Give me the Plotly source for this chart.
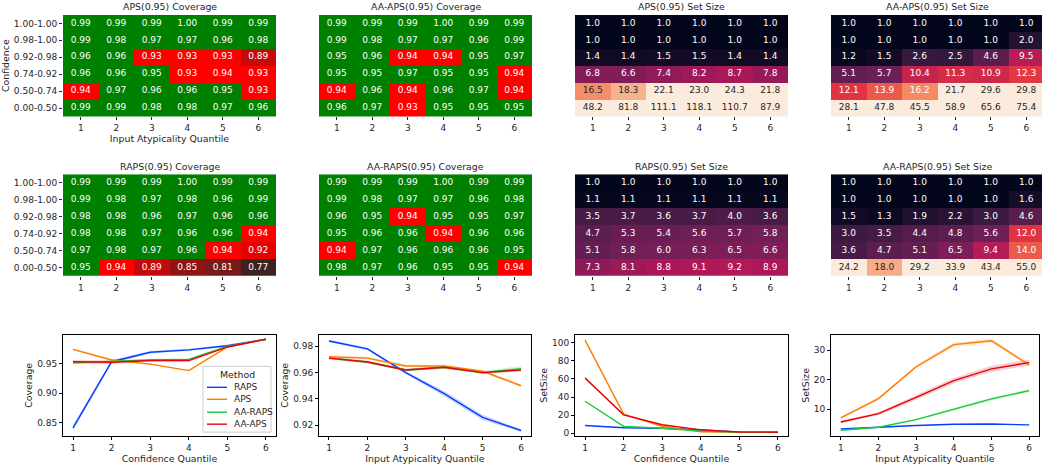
import plotly.graph_objects as go

W, H = 1042, 466

# ---------------- data ----------------
row_labels = ["1.00-1.00", "0.98-1.00", "0.92-0.98", "0.74-0.92", "0.50-0.74", "0.00-0.50"]
col_labels = [1, 2, 3, 4, 5, 6]

aps_cov = [
    [0.99, 0.99, 0.99, 1.00, 0.99, 0.99],
    [0.99, 0.98, 0.97, 0.97, 0.96, 0.98],
    [0.96, 0.96, 0.93, 0.93, 0.93, 0.89],
    [0.96, 0.96, 0.95, 0.93, 0.94, 0.93],
    [0.94, 0.97, 0.96, 0.96, 0.95, 0.93],
    [0.99, 0.99, 0.98, 0.98, 0.97, 0.96],
]
aa_aps_cov = [
    [0.99, 0.99, 0.99, 1.00, 0.99, 0.99],
    [0.99, 0.98, 0.97, 0.97, 0.96, 0.99],
    [0.95, 0.96, 0.94, 0.94, 0.95, 0.97],
    [0.95, 0.95, 0.97, 0.95, 0.95, 0.94],
    [0.94, 0.96, 0.94, 0.96, 0.97, 0.94],
    [0.96, 0.97, 0.93, 0.95, 0.95, 0.95],
]
aps_size = [
    [1.0, 1.0, 1.0, 1.0, 1.0, 1.0],
    [1.0, 1.0, 1.0, 1.0, 1.0, 1.0],
    [1.4, 1.4, 1.5, 1.5, 1.4, 1.4],
    [6.8, 6.6, 7.4, 8.2, 8.7, 7.8],
    [16.5, 18.3, 22.1, 23.0, 24.3, 21.8],
    [48.2, 81.8, 111.1, 118.1, 110.7, 87.9],
]
aa_aps_size = [
    [1.0, 1.0, 1.0, 1.0, 1.0, 1.0],
    [1.0, 1.0, 1.0, 1.0, 1.0, 2.0],
    [1.2, 1.5, 2.6, 2.5, 4.6, 9.5],
    [5.1, 5.7, 10.4, 11.3, 10.9, 12.3],
    [12.1, 13.9, 16.2, 21.7, 29.6, 29.8],
    [28.1, 47.8, 45.5, 58.9, 65.6, 75.4],
]
raps_cov = [
    [0.99, 0.99, 0.99, 1.00, 0.99, 0.99],
    [0.99, 0.98, 0.97, 0.98, 0.96, 0.99],
    [0.98, 0.98, 0.96, 0.97, 0.96, 0.96],
    [0.98, 0.98, 0.97, 0.96, 0.96, 0.94],
    [0.97, 0.98, 0.97, 0.96, 0.94, 0.92],
    [0.95, 0.94, 0.89, 0.85, 0.81, 0.77],
]
aa_raps_cov = [
    [0.99, 0.99, 0.99, 1.00, 0.99, 0.99],
    [0.99, 0.98, 0.97, 0.97, 0.96, 0.98],
    [0.96, 0.95, 0.94, 0.95, 0.95, 0.97],
    [0.95, 0.96, 0.96, 0.94, 0.96, 0.96],
    [0.94, 0.97, 0.96, 0.96, 0.96, 0.95],
    [0.98, 0.97, 0.96, 0.95, 0.95, 0.94],
]
raps_size = [
    [1.0, 1.0, 1.0, 1.0, 1.0, 1.0],
    [1.1, 1.1, 1.1, 1.1, 1.1, 1.1],
    [3.5, 3.7, 3.6, 3.7, 4.0, 3.6],
    [4.7, 5.3, 5.4, 5.6, 5.7, 5.8],
    [5.1, 5.8, 6.0, 6.3, 6.5, 6.6],
    [7.3, 8.1, 8.8, 9.1, 9.2, 8.9],
]
aa_raps_size = [
    [1.0, 1.0, 1.0, 1.0, 1.0, 1.0],
    [1.0, 1.0, 1.0, 1.0, 1.0, 1.6],
    [1.5, 1.3, 1.9, 2.2, 3.0, 4.6],
    [3.0, 3.5, 4.4, 4.8, 5.6, 12.0],
    [3.6, 4.7, 5.1, 6.5, 9.4, 14.0],
    [24.2, 18.0, 29.2, 33.9, 43.4, 55.0],
]

quantiles = [1, 2, 3, 4, 5, 6]
methods = ["RAPS", "APS", "AA-RAPS", "AA-APS"]

cov_by_conf = {
    "RAPS":    [0.841, 0.953, 0.969, 0.973, 0.980, 0.991],
    "APS":     [0.974, 0.956, 0.949, 0.938, 0.978, 0.991],
    "AA-RAPS": [0.951, 0.954, 0.956, 0.957, 0.979, 0.991],
    "AA-APS":  [0.953, 0.952, 0.955, 0.955, 0.978, 0.991],
}
cov_by_conf_ci = {
    "RAPS":    [0.005, 0.003, 0.002, 0.002, 0.002, 0.001],
    "APS":     [0.002, 0.002, 0.001, 0.001, 0.001, 0.001],
    "AA-RAPS": [0.002, 0.002, 0.002, 0.002, 0.001, 0.001],
    "AA-APS":  [0.003, 0.003, 0.002, 0.002, 0.001, 0.001],
}
cov_by_atyp = {
    "RAPS":    [0.984, 0.978, 0.960, 0.944, 0.926, 0.916],
    "APS":     [0.972, 0.971, 0.965, 0.965, 0.961, 0.950],
    "AA-RAPS": [0.971, 0.968, 0.962, 0.964, 0.960, 0.963],
    "AA-APS":  [0.971, 0.968, 0.962, 0.964, 0.960, 0.962],
}
cov_by_atyp_ci = {
    "RAPS":    [0.001, 0.001, 0.001, 0.002, 0.002, 0.001],
    "APS":     [0.001, 0.001, 0.001, 0.001, 0.001, 0.001],
    "AA-RAPS": [0.001, 0.001, 0.001, 0.001, 0.001, 0.002],
    "AA-APS":  [0.001, 0.001, 0.001, 0.001, 0.001, 0.001],
}
size_by_conf = {
    "RAPS":    [8.5, 6.0, 5.4, 3.7, 1.1, 1.0],
    "APS":     [103.0, 21.0, 7.6, 1.4, 1.0, 1.0],
    "AA-RAPS": [35.3, 7.5, 5.5, 2.4, 1.1, 1.0],
    "AA-APS":  [61.0, 20.3, 9.3, 3.6, 1.2, 1.0],
}
size_by_conf_ci = {
    "RAPS":    [0.3, 0.2, 0.2, 0.1, 0.0, 0.0],
    "APS":     [1.5, 0.5, 0.3, 0.1, 0.0, 0.0],
    "AA-RAPS": [0.8, 0.3, 0.2, 0.1, 0.0, 0.0],
    "AA-APS":  [1.8, 0.6, 0.3, 0.1, 0.0, 0.0],
}
size_by_atyp = {
    "RAPS":    [3.3, 4.0, 4.5, 4.9, 5.0, 4.7],
    "APS":     [7.1, 13.6, 24.4, 31.9, 33.2, 25.0],
    "AA-RAPS": [2.9, 3.9, 6.5, 10.0, 13.5, 16.3],
    "AA-APS":  [5.7, 8.5, 14.0, 19.7, 23.7, 25.8],
}
size_by_atyp_ci = {
    "RAPS":    [0.1, 0.1, 0.1, 0.1, 0.1, 0.1],
    "APS":     [0.4, 0.5, 0.6, 0.7, 0.7, 0.7],
    "AA-RAPS": [0.2, 0.2, 0.3, 0.4, 0.5, 0.5],
    "AA-APS":  [0.4, 0.5, 0.8, 0.9, 1.0, 1.0],
}

# ---------------- styles ----------------
FONT = "DejaVu Sans"
TXT = "#262626"
method_colors = {"RAPS": "#023eff", "APS": "#ff7c00", "AA-RAPS": "#1ac938", "AA-APS": "#e8000b"}
band_colors = {"RAPS": "rgba(2,62,255,0.2)", "APS": "rgba(255,124,0,0.2)",
               "AA-RAPS": "rgba(26,201,56,0.2)", "AA-APS": "rgba(232,0,11,0.2)"}

COV_MIN, COV_MAX = 0.75, 1.0
def cn(v):
    return (v - COV_MIN) / (COV_MAX - COV_MIN)
cov_scale = [
    [0.0, "#2a1e1e"], [cn(0.77), "#3e2222"], [cn(0.81), "#761a1a"], [cn(0.85), "#8f1414"],
    [cn(0.89), "#c40a0a"], [cn(0.92), "#e80000"], [cn(0.93), "#ff0000"], [cn(0.945), "#ff0000"],
    [cn(0.945), "#008000"], [1.0, "#008000"],
]
SZ_MIN, SZ_MAX = 1.0, 20.0
rocket = [
    [0.0, "#03051a"], [0.083, "#35193e"], [0.25, "#701f57"], [0.417, "#ad1759"],
    [0.583, "#e13342"], [0.75, "#f37651"], [0.917, "#f6b48f"], [1.0, "#faebdd"],
]

def px_x(a, b):
    return [a / W, min(b / W, 1.0)]
def px_y(top, bottom):
    return [1 - bottom / H, 1 - top / H]

col_x = [(63, 276), (319, 532), (575, 788), (831, 1044)]
heat_rows = [(15, 117), (175, 277)]
line_row = (336, 438)
line_x = [(63, 276), (319, 531), (575, 788), (831, 1039)]

fig = go.Figure()
annotations = []
shapes = []

heat_specs = [
    (0, 0, aps_cov, "APS(0.95) Coverage", "cov"),
    (0, 1, aa_aps_cov, "AA-APS(0.95) Coverage", "cov"),
    (0, 2, aps_size, "APS(0.95) Set Size", "size"),
    (0, 3, aa_aps_size, "AA-APS(0.95) Set Size", "size"),
    (1, 0, raps_cov, "RAPS(0.95) Coverage", "cov"),
    (1, 1, aa_raps_cov, "AA-RAPS(0.95) Coverage", "cov"),
    (1, 2, raps_size, "RAPS(0.95) Set Size", "size"),
    (1, 3, aa_raps_size, "AA-RAPS(0.95) Set Size", "size"),
]

layout_axes = {}
ax_i = 0
for (r, c, z, title, kind) in heat_specs:
    ax_i += 1
    xa = "x" if ax_i == 1 else f"x{ax_i}"
    ya = "y" if ax_i == 1 else f"y{ax_i}"
    xl = "xaxis" if ax_i == 1 else f"xaxis{ax_i}"
    yl = "yaxis" if ax_i == 1 else f"yaxis{ax_i}"
    rows_idx = list(range(len(row_labels)))
    if kind == "cov":
        fig.add_trace(go.Heatmap(z=z, x=col_labels, y=rows_idx, colorscale=cov_scale,
                                 zmin=COV_MIN, zmax=COV_MAX, showscale=False,
                                 xaxis=xa, yaxis=ya, hoverinfo="skip", xgap=0, ygap=0))
        fmt = "{:.2f}"
    else:
        fig.add_trace(go.Heatmap(z=z, x=col_labels, y=rows_idx, colorscale=rocket,
                                 zmin=SZ_MIN, zmax=SZ_MAX, showscale=False,
                                 xaxis=xa, yaxis=ya, hoverinfo="skip"))
        fmt = "{:.1f}"
    tx, ty, tt, tc = [], [], [], []
    for i, row in enumerate(z):
        for j, v in enumerate(row):
            tx.append(col_labels[j]); ty.append(i); tt.append(fmt.format(v))
            if kind == "size" and v >= 16.3:
                tc.append(TXT)
            else:
                tc.append("white")
    fig.add_trace(go.Scatter(x=tx, y=ty, text=tt, mode="text", textposition="middle center",
                             textfont=dict(family=FONT, size=9, color=tc), xaxis=xa, yaxis=ya,
                             hoverinfo="skip", showlegend=False, cliponaxis=True))
    x0, x1 = col_x[c]
    dom_x = px_x(x0, x1)
    width_px = (dom_x[1] - dom_x[0]) * W
    cell = (x1 - x0) / 6.0
    xr = [0.5, 0.5 + width_px / cell]
    t0, t1 = heat_rows[r]
    layout_axes[xl] = dict(domain=dom_x, range=xr, anchor=ya, tickmode="array", tickvals=col_labels,
                           ticktext=[str(v) for v in col_labels], ticks="outside", ticklen=3,
                           tickwidth=0.8, tickcolor=TXT, showgrid=False, zeroline=False,
                           showline=False, tickfont=dict(family=FONT, size=9, color=TXT))
    layout_axes[yl] = dict(domain=px_y(t0, t1), range=[5.5, -0.5], anchor=xa, showgrid=False,
                           zeroline=False, showline=False,
                           tickfont=dict(family=FONT, size=9, color=TXT))
    if c == 0:
        layout_axes[yl].update(tickmode="array", tickvals=rows_idx, ticktext=row_labels,
                               ticks="outside", ticklen=3, tickwidth=0.8, tickcolor=TXT)
    else:
        layout_axes[yl].update(showticklabels=False, ticks="")
    if r == 0 and c == 0:
        layout_axes[xl]["title"] = dict(text="Input Atypicality Quantile", standoff=0,
                                        font=dict(family=FONT, size=9.4, color=TXT))
        layout_axes[yl]["title"] = dict(text="Confidence", standoff=4,
                                        font=dict(family=FONT, size=9.4, color=TXT))
    annotations.append(dict(text=title, xref="paper", yref="paper", x=((x0 + x1) / 2) / W,
                            y=1 - (t0 - 0.5) / H, xanchor="center", yanchor="bottom",
                            showarrow=False, font=dict(family=FONT, size=9.4, color=TXT)))

line_specs = [
    (0, cov_by_conf, cov_by_conf_ci, "Confidence Quantile", "Coverage", [0.827, 0.999], [0.85, 0.90, 0.95], "{:.2f}"),
    (1, cov_by_atyp, cov_by_atyp_ci, "Input Atypicality Quantile", "Coverage", [0.9117, 0.9889], [0.92, 0.94, 0.96, 0.98], "{:.2f}"),
    (2, size_by_conf, size_by_conf_ci, "Confidence Quantile", "SetSize", [-3.3, 109.2], [0, 20, 40, 60, 80, 100], "{:.0f}"),
    (3, size_by_atyp, size_by_atyp_ci, "Input Atypicality Quantile", "SetSize", [0.9, 35.3], [10, 20, 30], "{:.0f}"),
]
for (c, series, ci, xt, yt, yr, ytv, yfmt) in line_specs:
    ax_i += 1
    xa, ya = f"x{ax_i}", f"y{ax_i}"
    xl, yl = f"xaxis{ax_i}", f"yaxis{ax_i}"
    for m in methods:
        ys = series[m]
        lo = [v - e for v, e in zip(ys, ci[m])]
        hi = [v + e for v, e in zip(ys, ci[m])]
        fig.add_trace(go.Scatter(x=quantiles + quantiles[::-1], y=hi + lo[::-1], fill="toself",
                                 fillcolor=band_colors[m], line=dict(width=0), mode="lines",
                                 xaxis=xa, yaxis=ya, hoverinfo="skip", showlegend=False))
    for m in methods:
        fig.add_trace(go.Scatter(x=quantiles, y=series[m], mode="lines", name=m,
                                 line=dict(color=method_colors[m], width=1.4),
                                 xaxis=xa, yaxis=ya, showlegend=False))
    x0, x1 = line_x[c]
    layout_axes[xl] = dict(domain=px_x(x0, x1), range=[0.74, 6.26], anchor=ya, tickmode="array",
                           tickvals=quantiles, ticks="outside", ticklen=3, tickwidth=0.8,
                           tickcolor="black", showline=True, mirror=True, linecolor="black",
                           linewidth=1, showgrid=False, zeroline=False,
                           tickfont=dict(family=FONT, size=9, color=TXT),
                           title=dict(text=xt, standoff=0, font=dict(family=FONT, size=9.4, color=TXT)))
    layout_axes[yl] = dict(domain=px_y(*line_row), range=yr, anchor=xa, tickmode="array",
                           tickvals=ytv, ticktext=[yfmt.format(v) for v in ytv], ticks="outside",
                           ticklen=3, tickwidth=0.8, tickcolor="black", showline=True, mirror=True,
                           linecolor="black", linewidth=1, showgrid=False, zeroline=False,
                           tickfont=dict(family=FONT, size=9, color=TXT),
                           title=dict(text=yt, standoff=2, font=dict(family=FONT, size=9.4, color=TXT)))

# manual legend (matplotlib-style compact box)
lg_l, lg_r, lg_t, lg_b = 203, 271, 368, 434
shapes.append(dict(type="rect", xref="paper", yref="paper", x0=lg_l / W, x1=lg_r / W,
                   y0=1 - lg_b / H, y1=1 - lg_t / H, line=dict(color="#cccccc", width=1),
                   fillcolor="rgba(255,255,255,0.85)", layer="above"))
annotations.append(dict(text="Method", xref="paper", yref="paper", x=((lg_l + lg_r) / 2) / W,
                        y=1 - 376 / H, xanchor="center", yanchor="middle", showarrow=False,
                        font=dict(family=FONT, size=9.4, color=TXT)))
item_y = [389, 401, 414, 426]
for m, iy in zip(methods, item_y):
    shapes.append(dict(type="line", xref="paper", yref="paper", x0=207 / W, x1=227 / W,
                       y0=1 - iy / H, y1=1 - iy / H, line=dict(color=method_colors[m], width=1.4),
                       layer="above"))
    annotations.append(dict(text=m, xref="paper", yref="paper", x=232 / W, y=1 - iy / H,
                            xanchor="left", yanchor="middle", showarrow=False,
                            font=dict(family=FONT, size=9, color=TXT)))

fig.update_layout(
    width=W, height=H, margin=dict(l=0, r=0, t=0, b=0), paper_bgcolor="white",
    plot_bgcolor="white", showlegend=False, annotations=annotations, shapes=shapes,
    font=dict(family=FONT, size=9, color=TXT), **layout_axes,
)
fig.write_html("out.html", config={"displayModeBar": False},
               post_script="document.body.style.margin='0';document.body.style.overflow='hidden';")
